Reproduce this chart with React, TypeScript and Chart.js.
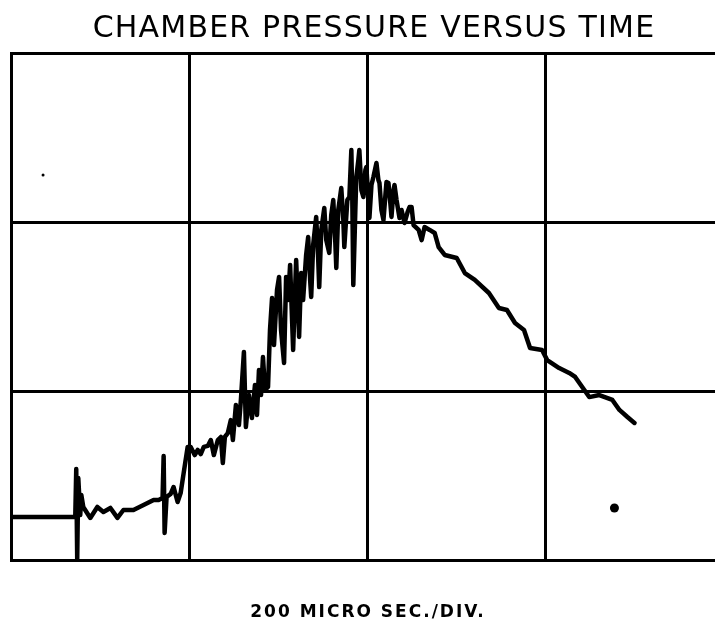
import React, { useEffect, useRef } from "react";
import { Chart, registerables } from "chart.js";

Chart.register(...registerables);

const TITLE = "CHAMBER PRESSURE VERSUS TIME";
const X_LABEL = "200 MICRO SEC./DIV.";

// time in microseconds (200 µs per division)
const timeUs = [
  0, 72.2, 73.3, 74.4, 75.6, 77.8, 79.0, 81.2, 89.1, 97.0,
  103.8, 111.7, 119.6, 126.3, 137.6, 148.9, 160.2, 165.8, 170.3, 171.5,
  172.6, 174.8, 179.4, 182.7, 187.2, 190.6, 194.0, 198.5, 201.9, 206.4,
  209.8, 213.2, 216.6, 221.1, 224.5, 227.9, 232.4, 235.8, 238.0, 240.3,
  243.6, 247.0, 249.3, 252.7, 256.1, 258.3, 261.7, 263.9, 267.3, 270.7,
  274.1, 276.4, 278.6, 280.9, 283.1, 285.4, 288.8, 291.0, 293.3, 295.5,
  298.9, 301.2, 303.4, 306.8, 309.1, 311.3, 313.6, 317.0, 319.2, 320.4,
  323.7, 326.0, 328.2, 331.6, 333.9, 336.1, 337.3, 339.5, 342.9, 345.2,
  346.3, 348.6, 352.0, 354.2, 357.6, 359.8, 362.1, 364.3, 365.5, 367.7,
  371.1, 373.4, 374.5, 377.9, 380.2, 382.4, 383.5, 384.6, 386.9, 388.0,
  390.3, 391.4, 393.7, 395.9, 398.2, 399.3, 401.6, 402.7, 405.0, 407.2,
  410.6, 412.8, 414.0, 416.2, 418.5, 420.7, 421.9, 424.1, 426.4, 427.5,
  429.8, 430.9, 433.2, 436.5, 438.8, 442.2, 445.6, 447.8, 450.1, 452.3,
  458.0, 461.4, 464.7, 470.4, 476.0, 480.5, 487.3, 500.8, 509.9, 521.1,
  537.0, 548.2, 557.2, 566.3, 576.4, 583.2, 596.7, 602.4, 615.9, 627.2,
  633.9, 649.7, 661.0, 675.7, 683.6, 692.6, 700.5,
];

// chamber pressure in vertical divisions
const pressureDiv = [
  0.254, 0.254, 0.538, 0.006, 0.485, 0.266, 0.385, 0.314, 0.249, 0.314,
  0.284, 0.308, 0.249, 0.296, 0.296, 0.325, 0.355, 0.355, 0.367, 0.615,
  0.160, 0.373, 0.391, 0.432, 0.343, 0.396, 0.515, 0.669, 0.669, 0.621,
  0.651, 0.627, 0.669, 0.675, 0.710, 0.621, 0.710, 0.728, 0.574, 0.728,
  0.751, 0.828, 0.710, 0.917, 0.799, 0.947, 1.231, 0.787, 0.976, 0.840,
  1.036, 0.858, 1.124, 0.976, 1.201, 1.006, 1.024, 1.361, 1.550, 1.272,
  1.598, 1.675, 1.361, 1.166, 1.675, 1.538, 1.746, 1.243, 1.598, 1.775,
  1.320, 1.698, 1.538, 1.805, 1.911, 1.657, 1.556, 1.864, 2.030, 1.775,
  1.615, 1.953, 2.083, 1.893, 1.817, 2.041, 2.130, 1.893, 1.728, 2.071,
  2.201, 2.012, 1.852, 2.130, 2.148, 2.426, 2.130, 1.627, 2.071, 2.266,
  2.367, 2.426, 2.189, 2.148, 2.308, 2.325, 2.130, 2.024, 2.219, 2.266,
  2.349, 2.249, 2.231, 2.071, 2.012, 2.160, 2.237, 2.231, 2.101, 2.030,
  2.189, 2.219, 2.130, 2.024, 2.071, 1.994, 2.059, 2.089, 2.089, 1.982,
  1.953, 1.893, 1.970, 1.953, 1.935, 1.852, 1.805, 1.787, 1.698, 1.657,
  1.580, 1.491, 1.479, 1.402, 1.361, 1.254, 1.243, 1.183, 1.136, 1.107,
  1.083, 0.964, 0.976, 0.947, 0.888, 0.846, 0.811,
];

// stray spots on the record
const spotTimes = [36, 678];
const spotValues = [2.278, 0.308];
const spotSizes = [1.5, 4.5];

// graticule
const X_MIN = 0;
const X_MAX = 791;
const X_GRID = [0, 200, 400, 600];
const Y_MIN = 0;
const Y_MAX = 3;
const Y_GRID = [0, 1, 2, 3];

const textPlugin = {
  id: "textLabels",
  afterDraw(chart: any) {
    const ctx = chart.ctx;
    ctx.save();
    ctx.fillStyle = "#000";
    ctx.textAlign = "center";
    ctx.textBaseline = "alphabetic";
    ctx.font = "30px 'DejaVu Sans', sans-serif";
    (ctx as any).letterSpacing = "1.2px";
    ctx.fillText(TITLE, 374, 37);
    ctx.font = "bold 17px 'DejaVu Sans', sans-serif";
    (ctx as any).letterSpacing = "2px";
    ctx.fillText(X_LABEL, 368, 617);
    ctx.restore();
  },
};

export default function App() {
  const ref = useRef<HTMLCanvasElement | null>(null);

  useEffect(() => {
    if (!ref.current) return;
    const chart = new Chart(ref.current, {
      type: "line",
      data: {
        datasets: [
          {
            label: "Chamber pressure",
            data: timeUs.map((t, i) => ({ x: t, y: pressureDiv[i] })),
            borderColor: "#000",
            borderWidth: 4.5,
            pointRadius: 0,
            tension: 0,
            fill: false,
            borderJoinStyle: "round",
            borderCapStyle: "round",
          },
          {
            label: "Spots",
            type: "scatter",
            data: spotTimes.map((t, i) => ({ x: t, y: spotValues[i] })),
            pointRadius: spotSizes,
            pointBackgroundColor: "#000",
            pointBorderWidth: 0,
            showLine: false,
          } as any,
        ],
      },
      options: {
        responsive: false,
        animation: false,
        devicePixelRatio: 1,
        layout: { autoPadding: false, padding: { left: 11, top: 53, right: 0, bottom: 68 } },
        plugins: {
          legend: { display: false },
          tooltip: { enabled: false },
          title: { display: false },
        },
        scales: {
          x: {
            type: "linear",
            min: X_MIN,
            max: X_MAX,
            ticks: { display: false },
            afterBuildTicks: (scale: any) => {
              scale.ticks = X_GRID.map((v) => ({ value: v }));
            },
            grid: { color: "#000", lineWidth: 3, drawTicks: false },
            border: { display: true, color: "#000", width: 3 },
          },
          y: {
            type: "linear",
            min: Y_MIN,
            max: Y_MAX,
            ticks: { display: false },
            afterBuildTicks: (scale: any) => {
              scale.ticks = Y_GRID.map((v) => ({ value: v }));
            },
            grid: { color: "#000", lineWidth: 3, drawTicks: false },
            border: { display: true, color: "#000", width: 3 },
          },
        },
      },
      plugins: [textPlugin],
    });
    return () => chart.destroy();
  }, []);

  return (
    <div style={{ position: "fixed", left: 0, top: 0, width: 715, height: 628, background: "#fff" }}>
      <canvas ref={ref} width={715} height={628} style={{ display: "block" }} />
    </div>
  );
}
